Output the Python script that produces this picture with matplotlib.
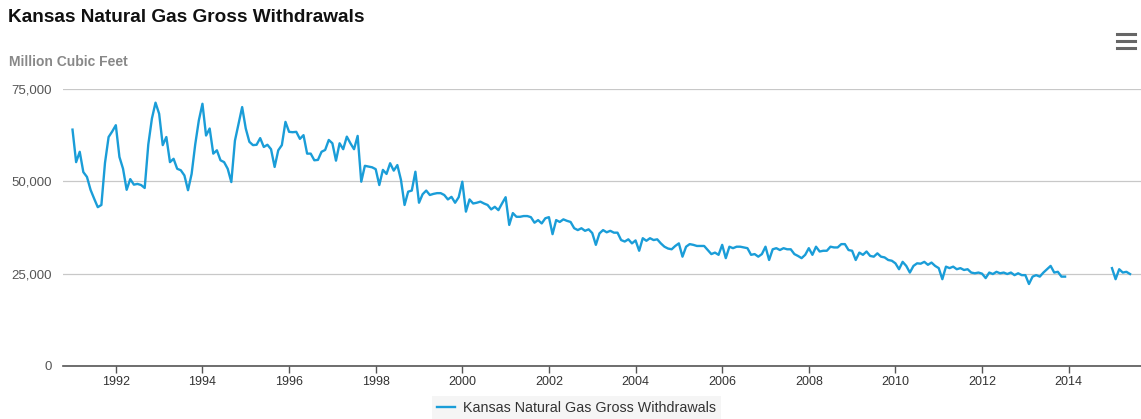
import numpy as np
import matplotlib
matplotlib.use("Agg")
import matplotlib.pyplot as plt
from matplotlib.lines import Line2D
from matplotlib.ticker import FuncFormatter

plt.rcParams['font.family'] = ['Liberation Sans', 'DejaVu Sans']

title = 'Kansas Natural Gas Gross Withdrawals'
units = 'Million Cubic Feet'
series_name = 'Kansas Natural Gas Gross Withdrawals'

# monthly withdrawals, Jan 1991 - Dec 2013 (one row per year)
first_year = 1991
monthly_1991_2013 = [
    64000, 55200, 58000, 52500, 51200, 47700, 45300, 43000, 43600, 55000, 62000, 63500,
    65200, 56600, 53400, 47700, 50600, 49100, 49300, 49000, 48200, 60000, 67000, 71300,
    68300, 59800, 62000, 55200, 56100, 53400, 53000, 51600, 47600, 52000, 60000, 66500,
    71000, 62400, 64300, 57500, 58400, 55700, 55200, 53400, 49800, 61000, 65500, 70100,
    64300, 60700, 59800, 59900, 61700, 59300, 59900, 58700, 53900, 58400, 59800, 66100,
    63400, 63300, 63400, 61500, 62500, 57500, 57500, 55700, 55800, 58000, 58500, 61200,
    60300, 55600, 60300, 58700, 62100, 60300, 58700, 62300, 49900, 54200, 54000, 53800,
    53300, 49000, 53100, 52000, 54900, 52900, 54400, 50400, 43600, 47200, 47500, 52600,
    44200, 46500, 47500, 46300, 46600, 46800, 46800, 46300, 45100, 45800, 44200, 45700,
    49900, 41800, 45100, 44000, 44200, 44500, 44000, 43600, 42400, 43100, 42200, 44000,
    45700, 38200, 41400, 40400, 40400, 40600, 40600, 40300, 38800, 39500, 38600, 40000,
    40300, 35700, 39500, 39000, 39700, 39300, 39000, 37300, 36800, 37300, 36600, 37000,
    36000, 32800, 35900, 36800, 36200, 36600, 36100, 36100, 34100, 33700, 34300, 33200,
    34000, 31200, 34600, 33900, 34600, 34100, 34300, 33200, 32300, 31800, 31600, 32500,
    33200, 29600, 32300, 33000, 32800, 32500, 32500, 32500, 31400, 30300, 30700, 30100,
    32800, 29200, 32300, 31900, 32300, 32300, 32100, 31900, 30100, 30300, 29600, 30300,
    32300, 28700, 31600, 31900, 31400, 31900, 31600, 31600, 30300, 29800, 29200, 30100,
    31900, 30100, 32300, 31000, 31200, 31200, 32300, 32100, 32100, 33000, 33000, 31400,
    31200, 28700, 30700, 30100, 31000, 29800, 29600, 30500, 29600, 29400, 28700, 28500,
    27800, 26200, 28200, 27100, 25300, 27100, 27800, 27700, 28200, 27400, 28000, 27100,
    26500, 23500, 26900, 26500, 26900, 26200, 26500, 26000, 26200, 25300, 25100, 25300,
    25000, 23800, 25300, 24900, 25500, 25100, 25300, 24900, 25300, 24600, 25100, 24600,
    24600, 22200, 24200, 24600, 24200, 25300, 26200, 27100, 25300, 25500, 24200, 24200,
]
# 2014 not reported
monthly_2014 = [np.nan] * 12
monthly_2015 = [26500, 23500, 26200, 25300, 25500, 24900]

values = np.array(monthly_1991_2013 + monthly_2014 + monthly_2015, dtype=float)
x = first_year + np.arange(len(values)) / 12.0

year_ticks = list(range(1992, 2016, 2))
y_ticks = [0, 25000, 50000, 75000]

fig = plt.figure(figsize=(11.41, 4.19), dpi=100)
ax = fig.add_axes([0.0552, 0.1265, 0.9448, 0.6611])

ax.plot(x, values, color='#1a9dd8', lw=1.7, solid_joinstyle='round')

ax.set_xlim(1990.78, 2015.67)
ax.set_ylim(0, 75000)
ax.set_xticks(year_ticks)
ax.set_yticks(y_ticks)
ax.yaxis.set_major_formatter(FuncFormatter(lambda v, p: f'{int(v):,}'))

ax.grid(axis='y', color='#c8c8c8', lw=0.9)
ax.set_axisbelow(True)
for s in ['top', 'right', 'left']:
    ax.spines[s].set_visible(False)
ax.spines['bottom'].set_color('#555555')
ax.spines['bottom'].set_linewidth(1.2)
ax.tick_params(axis='y', length=0, pad=8, labelsize=9.5, labelcolor='#555555')
ax.tick_params(axis='x', length=5, width=1, color='#555555', pad=2,
               labelsize=9, labelcolor='#333333')

fig.text(0.007, 0.958, title, fontsize=13.7, fontweight='bold', color='#111111', va='center')
fig.text(0.008, 0.852, units, fontsize=10, fontweight='bold', color='#888888', va='center')

# export menu icon
for yy in [0.919, 0.902, 0.885]:
    fig.add_artist(Line2D([0.979, 0.995], [yy, yy], color='#666666', lw=2.2,
                          transform=fig.transFigure))

handle = Line2D([], [], color='#1a9dd8', lw=1.7)
leg = fig.legend([handle], [series_name], loc='center', bbox_to_anchor=(0.505, 0.026),
                 frameon=True, fontsize=10.3, handlelength=1.3, handletextpad=0.5,
                 borderpad=0.35, fancybox=False)
leg.get_frame().set_facecolor('#f3f3f3')
leg.get_frame().set_edgecolor('none')
for t in leg.get_texts():
    t.set_color('#333333')

fig.savefig('out.png', dpi=100)
plt.close(fig)
